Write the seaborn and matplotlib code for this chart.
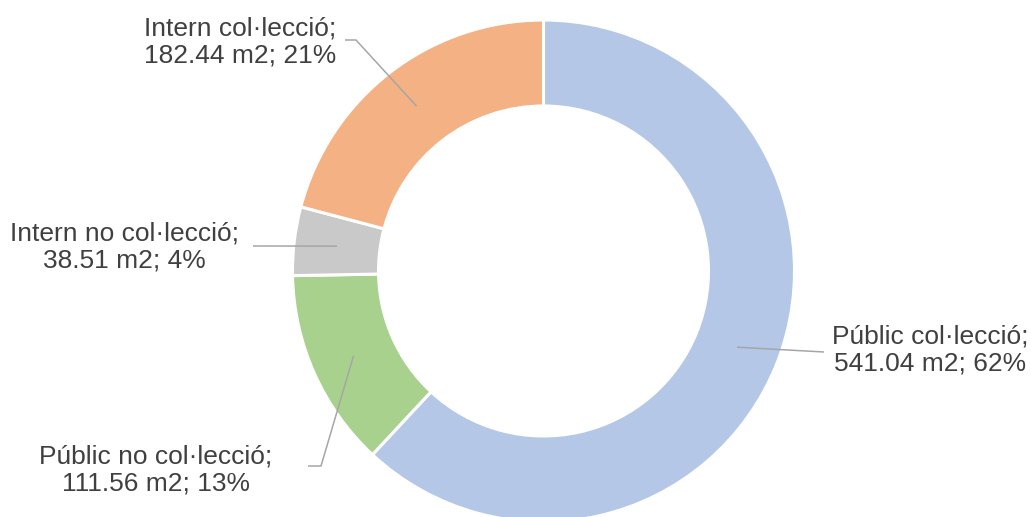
import matplotlib.pyplot as plt
import numpy as np
import seaborn as sns

# slice data, clockwise from 12 o'clock
categories = ["Públic col·lecció", "Públic no col·lecció", "Intern no col·lecció", "Intern col·lecció"]
areas_m2 = [541.04, 111.56, 38.51, 182.44]
colors = ["#B4C7E7", "#A9D18E", "#C9C9C9", "#F4B183"]

# layout in pixel coords (x right, y down)
CENTER = (543.5, 271.0)
R_OUT = 251.0
R_IN = 165.0
label_xy = [(930, 350), (156, 470), (124, 247), (240, 42)]
elbow_xy = [None, [(321, 466), (308, 466)], [(253, 246)], [(356, 40), (345, 40)]]


def main() -> None:
    sns.set_theme(style="white")
    plt.rcParams["font.family"] = ["Liberation Sans", "DejaVu Sans"]

    fig = plt.figure(figsize=(10.31, 5.17), dpi=100)
    ax = fig.add_axes([0, 0, 1, 1])
    ax.set_aspect("equal")
    ax.axis("off")

    total = sum(areas_m2)
    wedges, _ = ax.pie(
        areas_m2,
        colors=colors,
        startangle=90,
        counterclock=False,
        radius=R_OUT,
        center=(CENTER[0], -CENTER[1]),
        wedgeprops=dict(width=R_OUT - R_IN, edgecolor="white", linewidth=2.2),
    )
    ax.set_xlim(0, 1031)
    ax.set_ylim(-517, 0)

    r_mid = (R_OUT + R_IN) / 2
    for wedge, name, value, (lx, ly), elbow in zip(wedges, categories, areas_m2, label_xy, elbow_xy):
        ang = np.deg2rad((wedge.theta1 + wedge.theta2) / 2)
        ax_x = CENTER[0] + r_mid * np.cos(ang)
        ax_y = -CENTER[1] + r_mid * np.sin(ang)
        if elbow is None:
            pts = [(ax_x, ax_y), (824, -352)]
        else:
            pts = [(ax_x, ax_y)] + [(ex, -ey) for ex, ey in elbow]
        xs, ys = zip(*pts)
        ax.plot(xs, ys, color="#A6A6A6", lw=1.1, solid_capstyle="butt", zorder=3)

        pct = value / total * 100
        ax.text(
            lx, -ly,
            f"{name};\n{value:.2f} m2; {pct:.0f}%",
            ha="center", va="center", multialignment="center",
            fontsize=19, linespacing=1.15, color="#404040",
        )

    fig.savefig("out.png", dpi=100)
    plt.close(fig)


if __name__ == "__main__":
    main()
